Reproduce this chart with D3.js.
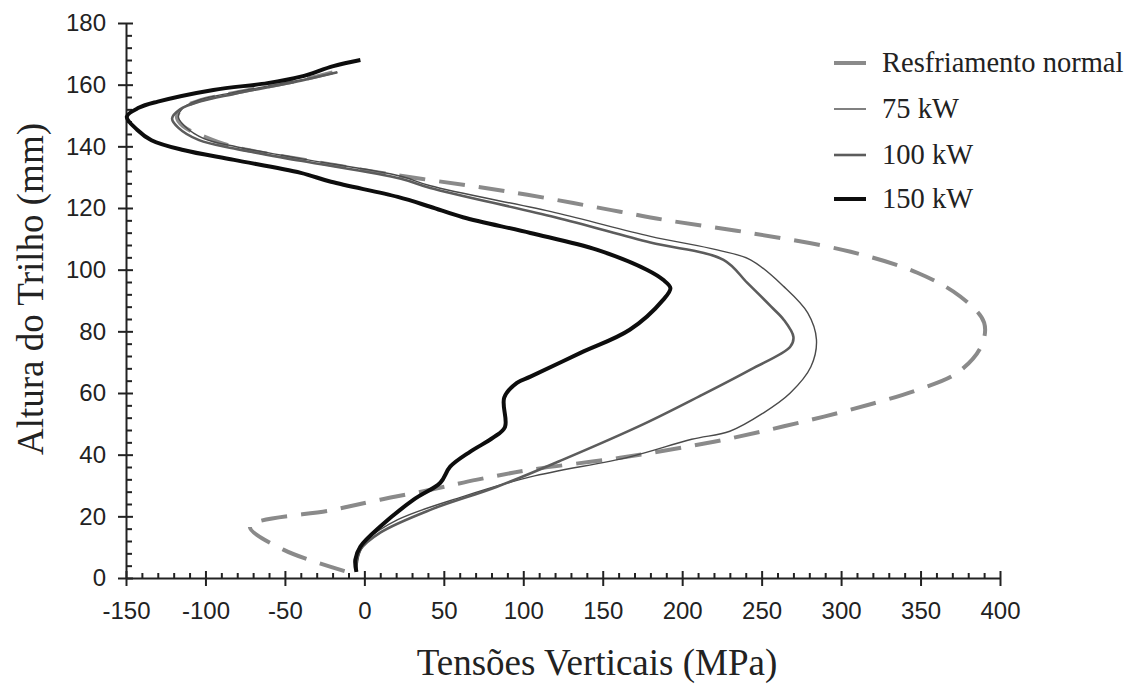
<!DOCTYPE html>
<html>
<head>
<meta charset="utf-8">
<script src="https://cdn.jsdelivr.net/npm/d3@7"></script>
<style>
    body { margin: 0; background: #fff; }
    .tick text { font-family: "Liberation Sans", Arial, sans-serif; fill: #222; }
</style>
</head>
<body>
<script>
// Series: [tensão (MPa), altura (mm)]
var normalData = [
    [-20, 164], [-40, 161.5], [-82, 157.3], [-103, 155], [-114, 152.5], [-118, 149.5],
    [-114, 146.5], [-100, 143], [-82, 139.8], [-40, 135.8], [12, 131.3], [73, 126.7],
    [102.6, 124.3], [131.5, 121.6], [161, 118.8], [190.7, 116], [243, 111.9], [306, 105.8],
    [348, 99], [375, 91.3], [390, 82.8], [388, 75], [373, 66.5], [348, 61], [306, 54.6],
    [264, 49.2], [220, 44.2], [161, 39], [104.5, 35.1], [71, 31.9], [41.5, 28.6], [10, 25.4],
    [-19.5, 22.1], [-72, 16.7], [-51, 9.2], [-11, 2]
];
var kw75Data = [
    [-17, 164], [-40, 161.5], [-82, 157.5], [-103, 155.2], [-114, 152.5], [-117, 149.5],
    [-113, 146.5], [-101, 142.5], [-80, 139.8], [-40, 136], [23, 130.3], [41.5, 127.2],
    [120, 118.5], [180, 110.8], [222, 106.4], [243, 103.2], [264, 94.5], [279, 86],
    [284.5, 77.3], [281, 68.5], [268, 60], [251, 53.5], [230, 47.6], [206, 45], [167, 39.3],
    [104.5, 32.8], [62, 26.4], [21, 18.9], [2, 12.4], [-3, 8], [-5, 2]
];
var kw100Data = [
    [-17, 164], [-40, 161.3], [-82, 157], [-103, 154.6], [-116, 152], [-121, 149],
    [-117, 146], [-104, 142], [-82, 139.3], [-40, 135.3], [23, 129.5], [41.5, 126.5],
    [120, 117], [180, 108.8], [226, 103.2], [241, 95.7], [256, 88], [264, 83.7], [270, 78.2],
    [268, 75], [243, 67.6], [211, 59], [176, 50], [125, 38.4], [83.5, 29.6], [41.5, 22.1],
    [10, 14.7], [-2.5, 9.2], [-5, 5], [-5, 2]
];
var kw150Data = [
    [-2.5, 168], [-19.5, 166], [-40, 162.6], [-61, 160.5], [-95, 158.3], [-130, 154.5],
    [-142, 152.5], [-149.5, 149.6], [-143, 145.4], [-134, 142], [-114, 138.8], [-82, 135.6],
    [-40, 131.4], [-21, 128.5], [21, 123.6], [41.5, 120.4], [62, 117], [104.5, 111.9],
    [146.6, 106.4], [178, 99.9], [188, 96.7], [192.6, 94], [188, 90.2], [167, 80.5],
    [136, 73], [104.5, 65.3], [96, 63.3], [88, 58.5], [88.5, 49], [81, 45.5], [66.7, 41],
    [54, 36.1], [47.8, 30.9], [31, 25.4], [10, 16.7], [-2.5, 10.2], [-5.7, 5.9], [-5, 2]
];

var seriesNames = ["Resfriamento normal", "75 kW", "100 kW", "150 kW"];
var xTicks = [-150, -100, -50, 0, 50, 100, 150, 200, 250, 300, 350, 400];
var yTicks = [0, 20, 40, 60, 80, 100, 120, 140, 160, 180];

var width = 1145, height = 684;

var svg = d3.select("body").append("svg")
    .attr("width", width)
    .attr("height", height);

var x = d3.scaleLinear().domain([-150, 400]).range([126, 1000]);
var y = d3.scaleLinear().domain([0, 180]).range([578, 23]);

// minor ticks (inside only)
var xMinor = d3.range(-150, 401, 10).filter(function (v) { return v % 50 !== 0; });
var yMinor = d3.range(0, 181, 4).filter(function (v) { return v % 20 !== 0; });

svg.append("g")
    .attr("transform", "translate(0," + y(0) + ")")
    .call(d3.axisBottom(x).tickValues(xMinor).tickSize(-5).tickFormat(""))
    .call(function (g) { g.select(".domain").remove(); })
    .selectAll("line").attr("stroke", "#222").attr("stroke-width", 1.5);

svg.append("g")
    .attr("transform", "translate(" + x(-150) + ",0)")
    .call(d3.axisLeft(y).tickValues(yMinor).tickSize(-6).tickFormat(""))
    .call(function (g) { g.select(".domain").remove(); })
    .selectAll("line").attr("stroke", "#222").attr("stroke-width", 1.5);

// major axes, plain hyphen for negatives
var plain = function (d) { return String(d); };

var xAxis = svg.append("g")
    .attr("transform", "translate(0," + y(0) + ")")
    .call(d3.axisBottom(x).tickValues(xTicks).tickFormat(plain)
        .tickSizeInner(8).tickSizeOuter(0).tickPadding(16));
xAxis.selectAll(".tick line").attr("y1", -7);
xAxis.selectAll(".tick text").style("font-size", "24px");

var yAxis = svg.append("g")
    .attr("transform", "translate(" + x(-150) + ",0)")
    .call(d3.axisLeft(y).tickValues(yTicks).tickFormat(plain)
        .tickSizeInner(8).tickSizeOuter(0).tickPadding(12));
yAxis.selectAll(".tick line").attr("x1", 7);
yAxis.selectAll(".tick text").style("font-size", "24px");

svg.selectAll(".domain, .tick line").attr("stroke", "#222").attr("stroke-width", 2);

var line = d3.line()
    .x(function (d) { return x(d[0]); })
    .y(function (d) { return y(d[1]); })
    .curve(d3.curveCatmullRom.alpha(0.5));

var styles = [
    { data: normalData, color: "#8a8a8a", w: 4, dash: "26,14" },
    { data: kw75Data, color: "#4a4a4a", w: 1.4, dash: null },
    { data: kw100Data, color: "#5c5c5c", w: 2.6, dash: null },
    { data: kw150Data, color: "#0d0d0d", w: 4, dash: null }
];

styles.forEach(function (s) {
    svg.append("path")
        .datum(s.data)
        .attr("d", line)
        .attr("fill", "none")
        .attr("stroke", s.color)
        .attr("stroke-width", s.w)
        .attr("stroke-dasharray", s.dash)
        .attr("stroke-linejoin", "round");
});

// legend
var legendY = [63, 109, 155, 199];
var legend = svg.append("g");
styles.forEach(function (s, i) {
    legend.append("line")
        .attr("x1", 834).attr("x2", 866)
        .attr("y1", legendY[i]).attr("y2", legendY[i])
        .attr("stroke", s.color)
        .attr("stroke-width", s.w);
    legend.append("text")
        .attr("x", 882)
        .attr("y", legendY[i] + 9)
        .style("font-family", "'Liberation Serif', 'Times New Roman', serif")
        .style("font-size", "28.5px")
        .attr("fill", "#222")
        .text(seriesNames[i]);
});

// axis titles
svg.append("text")
    .attr("x", 597)
    .attr("y", 675)
    .attr("text-anchor", "middle")
    .style("font-family", "'Liberation Serif', 'Times New Roman', serif")
    .style("font-size", "37px")
    .attr("fill", "#222")
    .text("Tensões Verticais (MPa)");

svg.append("text")
    .attr("transform", "translate(43,289) rotate(-90)")
    .attr("text-anchor", "middle")
    .style("font-family", "'Liberation Serif', 'Times New Roman', serif")
    .style("font-size", "37px")
    .attr("fill", "#222")
    .text("Altura do Trilho (mm)");
</script>
</body>
</html>
